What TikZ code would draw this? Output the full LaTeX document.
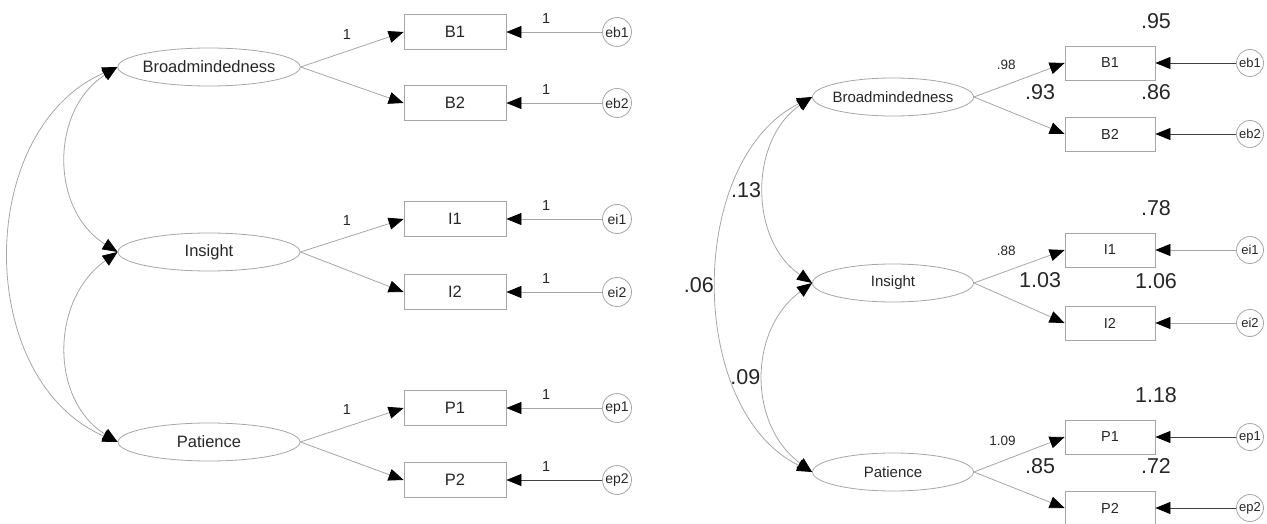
\documentclass[tikz,border=0pt]{standalone}
\usepackage{fontspec}
\setmainfont{Liberation Sans}
\usetikzlibrary{shapes.geometric,arrows.meta}

\begin{document}
\begin{tikzpicture}[x=1pt, y=-1pt, line width=0.8pt, node distance={162pt},
    >={Triangle[length=15pt, width=12pt, color=black]},
    lat/.style = {draw=gray!70, ellipse, inner xsep=-2pt, minimum width=182pt, minimum height=38pt, text=black!85, font=\fontsize{16.5}{18}\selectfont},
    obs/.style = {draw=gray!70, minimum width=102pt, minimum height=35pt, text=black!85, font=\fontsize{16.5}{18}\selectfont},
    err/.style = {draw=gray!70, circle, minimum size=29pt, inner sep=0pt, text=black!85, font=\fontsize{14}{15}\selectfont},
    load/.style = {draw=gray!70, ->},
    cov/.style = {draw=gray!70, <->},
    num/.style = {text=black!85, font=\fontsize{14.5}{16}\selectfont},
    big/.style = {text=black!85, font=\fontsize{21.5}{24}\selectfont},
    r2/.style = {big, xshift=46pt, label distance=13pt}]
    \useasboundingbox (0,0) rectangle (1267,524);

    % unstandardised model
    \node[lat] (lbro) at (209,67) {Broadmindedness};
    \node[lat] (lins) at (209,252) {Insight};
    \node[lat] (lpat) at (209,442) {Patience};
    \node[obs] (lb1) at (455,32) {B1};
    \node[obs] (lb2) at (455,103) {B2};
    \node[obs] (li1) at (455,219) {I1};
    \node[obs] (li2) at (455,292) {I2};
    \node[obs] (lp1) at (455,408) {P1};
    \node[obs] (lp2) at (455,480) {P2};
    \node[err] (leb1) [right of=lb1] {eb1};
    \node[err] (leb2) [right of=lb2] {eb2};
    \node[err] (lei1) [right of=li1] {ei1};
    \node[err] (lei2) [right of=li2] {ei2};
    \node[err] (lep1) [right of=lp1] {ep1};
    \node[err] (lep2) [right of=lp2] {ep2};

    % loadings
    \draw[load] (lbro.east) -- (lb1.west) node[pos=0.45, above=8pt, num] {1};
    \draw[load] (lbro.east) -- (lb2.west);
    \draw[load] (lins.east) -- (li1.west) node[pos=0.45, above=8pt, num] {1};
    \draw[load] (lins.east) -- (li2.west);
    \draw[load] (lpat.east) -- (lp1.west) node[pos=0.45, above=8pt, num] {1};
    \draw[load] (lpat.east) -- (lp2.west);

    % errors
    \draw[load] (leb1) -- (lb1.east) node[midway, above=5pt, xshift=-8pt, num] {1};
    \draw[load] (leb2) -- (lb2.east) node[midway, above=5pt, xshift=-8pt, num] {1};
    \draw[load] (lei1) -- (li1.east) node[midway, above=5pt, xshift=-8pt, num] {1};
    \draw[load] (lei2) -- (li2.east) node[midway, above=5pt, xshift=-8pt, num] {1};
    \draw[load] (lep1) -- (lp1.east) node[midway, above=5pt, xshift=-8pt, num] {1};
    \draw[load, draw=black!75] (lep2) -- (lp2.east) node[midway, above=5pt, xshift=-8pt, num] {1};

    % covariances
    \draw[cov] (lbro.west) .. controls (50,110) and (50,210) .. (lins.west);
    \draw[cov] (lins.west) .. controls (50,300) and (50,400) .. (lpat.west);
    \draw[cov] (lbro.west) .. controls (-26,130) and (-26,380) .. (lpat.west);

    % standardised model
    \begin{scope}[node distance={140pt},
        lat/.append style = {minimum width=161pt, inner xsep=-3.5pt, font=\fontsize{15}{17}\selectfont},
        obs/.append style = {minimum width=90pt, minimum height=34pt, font=\fontsize{14.5}{16}\selectfont},
        err/.append style = {minimum size=27pt, font=\fontsize{13}{14}\selectfont},
        num/.append style = {font=\fontsize{13.5}{15}\selectfont}]
    \node[lat] (rbro) at (893,97) {Broadmindedness};
    \node[lat] (rins) at (893,283) {Insight};
    \node[lat] (rpat) at (893,472) {Patience};
    \node[obs, label={[r2]above:.95}] (rb1) at (1110,63) {B1};
    \node[obs, label={[r2]above:.86}] (rb2) at (1110,134) {B2};
    \node[obs, label={[r2]above:.78}] (ri1) at (1110,250) {I1};
    \node[obs, label={[r2]above:1.06}] (ri2) at (1110,323) {I2};
    \node[obs, label={[r2]above:1.18}] (rp1) at (1110,437) {P1};
    \node[obs, label={[r2]above:.72}] (rp2) at (1110,508) {P2};
    \node[err] (reb1) [right of=rb1] {eb1};
    \node[err] (reb2) [right of=rb2] {eb2};
    \node[err] (rei1) [right of=ri1] {ei1};
    \node[err] (rei2) [right of=ri2] {ei2};
    \node[err] (rep1) [right of=rp1] {ep1};
    \node[err] (rep2) [right of=rp2] {ep2};

    \draw[load] (rbro.east) -- (rb1.west) node[midway, above left, yshift=7pt, num] {.98};
    \draw[load] (rbro.east) -- (rb2.west) node[pos=0.73, above=21pt, big] {.93};
    \draw[load] (rins.east) -- (ri1.west) node[midway, above left, yshift=7pt, num] {.88};
    \draw[load] (rins.east) -- (ri2.west) node[pos=0.73, above=21pt, big] {1.03};
    \draw[load] (rpat.east) -- (rp1.west) node[midway, above left, yshift=5pt, num] {1.09};
    \draw[load] (rpat.east) -- (rp2.west) node[pos=0.73, above=21pt, big] {.85};

    \draw[load, draw=black!75] (reb1) -- (rb1.east);
    \draw[load, draw=black!75] (reb2) -- (rb2.east);
    \draw[load] (rei1) -- (ri1.east);
    \draw[load] (rei2) -- (ri2.east);
    \draw[load, draw=black!75] (rep1) -- (rp1.east);
    \draw[load, draw=black!75] (rep2) -- (rp2.east);

    \draw[cov] (rbro.west) .. controls (749,140) and (749,240) .. (rins.west) node[pos=0.5, left, big] {.13};
    \draw[cov] (rins.west) .. controls (748,330) and (748,425) .. (rpat.west) node[pos=0.5, left, big] {.09};
    \draw[cov] (rbro.west) .. controls (686,160) and (686,410) .. (rpat.west) node[pos=0.5, left, big] {.06};
    \end{scope}
\end{tikzpicture}
\end{document}
